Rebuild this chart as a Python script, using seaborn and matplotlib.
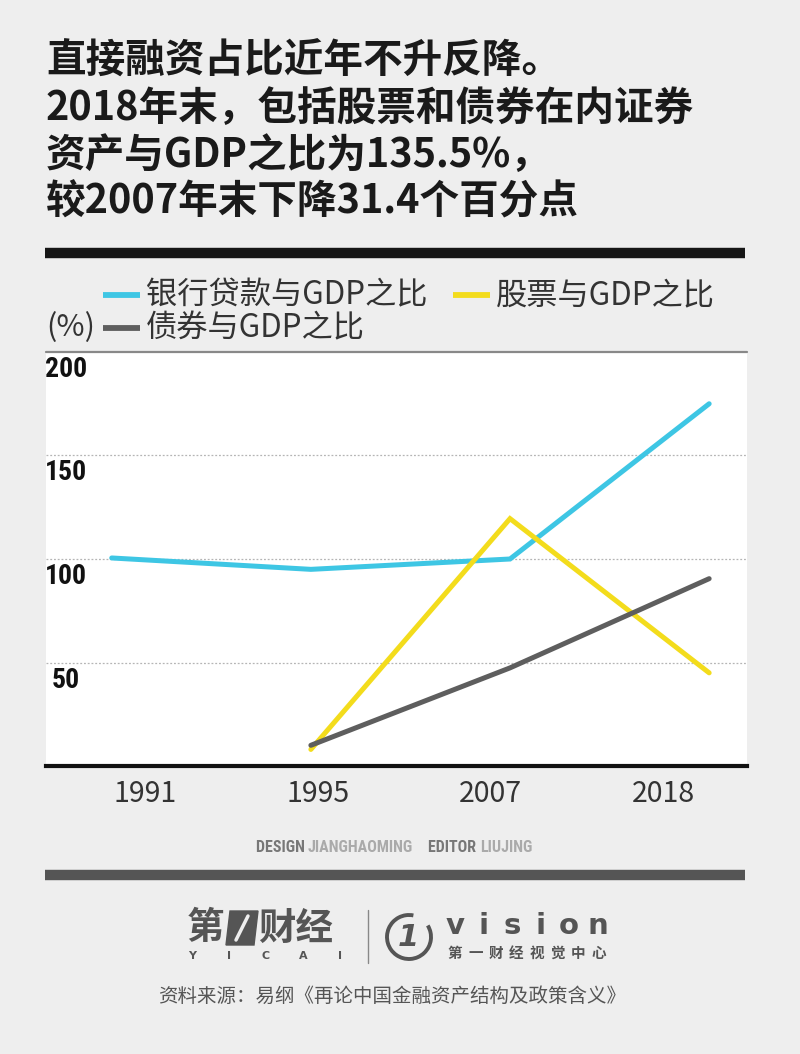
import numpy as np
import pandas as pd
import matplotlib
matplotlib.use('Agg')
import matplotlib.pyplot as plt
import matplotlib.transforms as mtransforms
from matplotlib.lines import Line2D
from matplotlib.patches import Polygon, Arc
import seaborn as sns

# Data (% of GDP)
years = ['1991', '1995', '2007', '2018']
bank_loans = [100.5, 95, 100, 175]
stocks = [np.nan, 8, 119.5, 45]
bonds = [np.nan, 10, 47.4, 90.5]
series_names = ['银行贷款与GDP之比', '股票与GDP之比', '债券与GDP之比']
colors = ['#3ec6e4', '#f3dc1c', '#5e5e5e']
y_ticks = [50, 100, 150, 200]

sns.set_theme(style='white')
plt.rcParams['font.family'] = ['Noto Sans CJK SC', 'DejaVu Sans']
narrow = ['Roboto Condensed', 'Open Sans Condensed', 'Noto Sans CJK SC', 'DejaVu Sans']

W, H = 800, 1054
fig = plt.figure(figsize=(W / 100, H / 100), dpi=100)
fig.patch.set_facecolor('#eeeeee')


def fx(x):
    return x / W


def fy(y):
    return 1 - y / H


# long-form table for seaborn
df = pd.DataFrame({'year': years, 'x': range(len(years)),
                   series_names[0]: bank_loans,
                   series_names[1]: stocks,
                   series_names[2]: bonds})
long_df = df.melt(id_vars=['year', 'x'], var_name='series', value_name='value').dropna()

ax = fig.add_axes([fx(46), fy(766), fx(747) - fx(46), fy(352) - fy(766)])
ax.set_facecolor('white')
sns.lineplot(data=long_df, x='x', y='value', hue='series', hue_order=series_names,
             palette=colors, linewidth=3.6, legend=False, ax=ax)
for ln in ax.lines:
    ln.set_solid_capstyle('round')
    ln.set_solid_joinstyle('miter')

ax.set_xlim(-0.33, 3.19)
ax.set_ylim(0, 200)

# dotted grid + top line
for v in y_ticks[:-1]:
    ax.axhline(v, color='#b5b5b5', lw=0.9, ls=(0, (1.5, 1.5)), zorder=0)
ax.axhline(200, color='#888888', lw=1.6, zorder=0, clip_on=False)

for s in ['left', 'right', 'top']:
    ax.spines[s].set_visible(False)
ax.spines['bottom'].set_color('#111111')
ax.spines['bottom'].set_linewidth(3)

# year labels are spread a little tighter than the points
ax.set_xticks(np.linspace(0.17, 2.77, len(years)))
ax.set_xticklabels(years, fontsize=20.5, color='#333333', fontweight='light')
ax.set_yticks([])
ax.tick_params(axis='x', length=0, pad=9)
ax.set_xlabel('')
ax.set_ylabel('')

# y labels sit just under their grid lines
trans = mtransforms.blended_transform_factory(ax.transAxes, ax.transData) + \
    mtransforms.ScaledTranslation(0, -4 / 100, fig.dpi_scale_trans)
for v in y_ticks:
    ax.text(0.028, v, str(v), transform=trans, ha='center', va='top',
            fontsize=20, fontweight='bold', color='#111111', family=narrow)

# title
title_lines = ['直接融资占比近年不升反降。',
               '2018年末，包括股票和债券在内证券',
               '资产与GDP之比为135.5%，',
               '较2007年末下降31.4个百分点']
for i, t in enumerate(title_lines):
    fig.text(fx(46), fy(61 + 47 * i), t, ha='left', va='center',
             fontsize=28.5, fontweight='bold', color='#1a1a1a')

# black bar under title
fig.add_artist(Line2D([fx(45), fx(745)], [fy(253), fy(253)], color='#161616', lw=7.5,
                      solid_capstyle='butt'))

# legend
leg_items = [(103, 295, 0), (453, 295, 1), (103, 328, 2)]
for x0, y0, k in leg_items:
    fig.add_artist(Line2D([fx(x0), fx(x0 + 37)], [fy(y0), fy(y0)], color=colors[k],
                          lw=4.2, solid_capstyle='butt'))
    fig.text(fx(x0 + 43), fy(y0), series_names[k], ha='left', va='center',
             fontsize=22.5, color='#333333', fontweight='light')
fig.text(fx(46), fy(328), '(%)', ha='left', va='center', fontsize=22,
         color='#333333', fontweight='light')

# credits, pieces chained left to right
renderer = fig.canvas.get_renderer()
cred = [('DESIGN ', '#777777'), ('JIANGHAOMING', '#aaaaaa'), ('    EDITOR ', '#777777'),
        ('LIUJING', '#aaaaaa')]
pieces = []
for t, c in cred:
    pieces.append(fig.text(0, fy(848), t, ha='left', va='center', fontsize=11.5,
                           fontweight='bold', color=c, family=narrow))
widths = [p.get_window_extent(renderer).width for p in pieces]
xpos = 394 - sum(widths) / 2
for p, w in zip(pieces, widths):
    p.set_x(fx(xpos))
    xpos += w

fig.add_artist(Line2D([fx(45), fx(745)], [fy(875), fy(875)], color='#555555', lw=7.5,
                      solid_capstyle='butt'))

# logo block
logo_c = '#555555'
fig.text(fx(187), fy(928), '第', ha='left', va='center', fontsize=27, fontweight='bold',
         color=logo_c)
fig.add_artist(Polygon([[fx(226), fy(945)], [fx(254), fy(945)], [fx(258), fy(911)],
                        [fx(230), fy(911)]], closed=True, color=logo_c))
fig.add_artist(Line2D([fx(236), fx(248)], [fy(940), fy(916)], color='#eeeeee', lw=2.5))
fig.text(fx(258), fy(928), '财经', ha='left', va='center', fontsize=27, fontweight='bold',
         color=logo_c)
for i, ch in enumerate('YICAI'):
    fig.text(fx(192 + 37 * i), fy(956), ch, ha='center', va='center', fontsize=8,
             fontweight='bold', color=logo_c, family='DejaVu Sans')
fig.add_artist(Line2D([fx(368), fx(368)], [fy(910), fy(963)], color='#888888', lw=1))

fig.add_artist(Arc((fx(409), fy(937)), 44 / W, 44 / H, theta1=75, theta2=385,
                   color=logo_c, lw=2.8))
fig.text(fx(408), fy(938), '1', ha='center', va='center', fontsize=22, fontweight='bold',
         style='italic', color=logo_c, family='DejaVu Sans')
for i, ch in enumerate('vision'):
    fig.text(fx(455 + 28.5 * i), fy(926), ch, ha='center', va='center', fontsize=21,
             fontweight='bold', color=logo_c, family='DejaVu Sans')
for i, ch in enumerate('第一财经视觉中心'):
    fig.text(fx(455 + 20.5 * i), fy(953), ch, ha='center', va='center', fontsize=10.5,
             fontweight='bold', color=logo_c)

fig.text(fx(392), fy(996), '资料来源：易纲《再论中国金融资产结构及政策含义》', ha='center',
         va='center', fontsize=14, color='#555555', fontweight='light')

fig.savefig('out.png', dpi=100, facecolor=fig.get_facecolor())
